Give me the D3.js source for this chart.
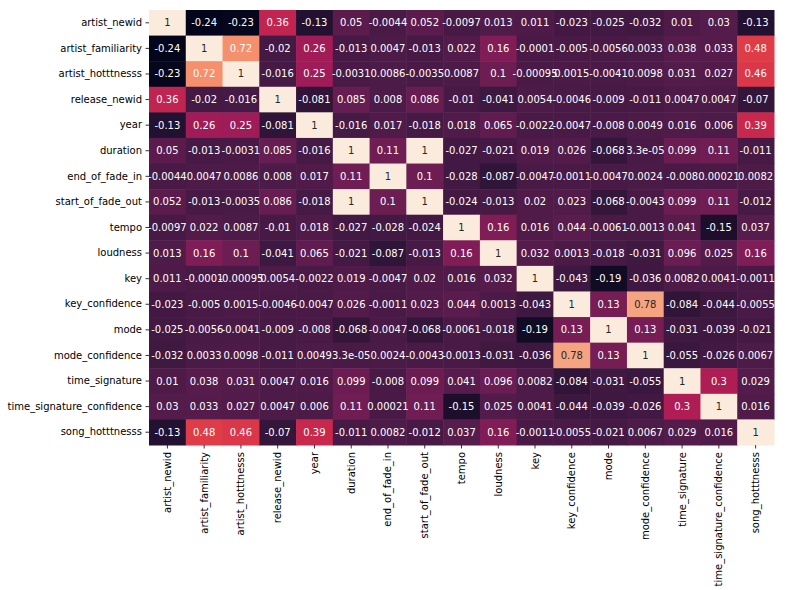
<!DOCTYPE html>
<html>
<head>
<meta charset="utf-8">
<script src="https://cdn.jsdelivr.net/npm/d3@7"></script>
<style>
  body { margin: 0; background: #fff; }
  svg { display: block; }
  text { font-family: "DejaVu Sans", sans-serif; }
</style>
</head>
<body>
<svg id="chart" width="796" height="590"></svg>
<script>
const labels = ["artist_newid","artist_familiarity","artist_hotttnesss","release_newid","year","duration","end_of_fade_in","start_of_fade_out","tempo","loudness","key","key_confidence","mode","mode_confidence","time_signature","time_signature_confidence","song_hotttnesss"];

const corr = [
  [1, -0.24, -0.23, 0.36, -0.13, 0.05, -0.0044, 0.052, -0.0097, 0.013, 0.011, -0.023, -0.025, -0.032, 0.01, 0.03, -0.13],
  [-0.24, 1, 0.72, -0.02, 0.26, -0.013, 0.0047, -0.013, 0.022, 0.16, -0.0001, -0.005, -0.0056, 0.0033, 0.038, 0.033, 0.48],
  [-0.23, 0.72, 1, -0.016, 0.25, -0.0031, 0.0086, -0.0035, 0.0087, 0.1, -0.00095, 0.0015, -0.0041, 0.0098, 0.031, 0.027, 0.46],
  [0.36, -0.02, -0.016, 1, -0.081, 0.085, 0.008, 0.086, -0.01, -0.041, 0.0054, -0.0046, -0.009, -0.011, 0.0047, 0.0047, -0.07],
  [-0.13, 0.26, 0.25, -0.081, 1, -0.016, 0.017, -0.018, 0.018, 0.065, -0.0022, -0.0047, -0.008, 0.0049, 0.016, 0.006, 0.39],
  [0.05, -0.013, -0.0031, 0.085, -0.016, 1, 0.11, 1, -0.027, -0.021, 0.019, 0.026, -0.068, 3.3e-05, 0.099, 0.11, -0.011],
  [-0.0044, 0.0047, 0.0086, 0.008, 0.017, 0.11, 1, 0.1, -0.028, -0.087, -0.0047, -0.0011, -0.0047, 0.0024, -0.008, 0.00021, 0.0082],
  [0.052, -0.013, -0.0035, 0.086, -0.018, 1, 0.1, 1, -0.024, -0.013, 0.02, 0.023, -0.068, -0.0043, 0.099, 0.11, -0.012],
  [-0.0097, 0.022, 0.0087, -0.01, 0.018, -0.027, -0.028, -0.024, 1, 0.16, 0.016, 0.044, -0.0061, -0.0013, 0.041, -0.15, 0.037],
  [0.013, 0.16, 0.1, -0.041, 0.065, -0.021, -0.087, -0.013, 0.16, 1, 0.032, 0.0013, -0.018, -0.031, 0.096, 0.025, 0.16],
  [0.011, -0.0001, -0.00095, 0.0054, -0.0022, 0.019, -0.0047, 0.02, 0.016, 0.032, 1, -0.043, -0.19, -0.036, 0.0082, 0.0041, -0.0011],
  [-0.023, -0.005, 0.0015, -0.0046, -0.0047, 0.026, -0.0011, 0.023, 0.044, 0.0013, -0.043, 1, 0.13, 0.78, -0.084, -0.044, -0.0055],
  [-0.025, -0.0056, -0.0041, -0.009, -0.008, -0.068, -0.0047, -0.068, -0.0061, -0.018, -0.19, 0.13, 1, 0.13, -0.031, -0.039, -0.021],
  [-0.032, 0.0033, 0.0098, -0.011, 0.0049, 3.3e-05, 0.0024, -0.0043, -0.0013, -0.031, -0.036, 0.78, 0.13, 1, -0.055, -0.026, 0.0067],
  [0.01, 0.038, 0.031, 0.0047, 0.016, 0.099, -0.008, 0.099, 0.041, 0.096, 0.0082, -0.084, -0.031, -0.055, 1, 0.3, 0.029],
  [0.03, 0.033, 0.027, 0.0047, 0.006, 0.11, 0.00021, 0.11, -0.15, 0.025, 0.0041, -0.044, -0.039, -0.026, 0.3, 1, 0.016],
  [-0.13, 0.48, 0.46, -0.07, 0.39, -0.011, 0.0082, -0.012, 0.037, 0.16, -0.0011, -0.0055, -0.021, 0.0067, 0.029, 0.016, 1]
];

// rocket colormap stops
const rocketStops = ["#03051a", "#35193e", "#701f57", "#ad1759", "#e13342", "#f37651", "#f6b48f", "#faebdd"];

const margin = {left: 149, top: 10, right: 22, bottom: 145};
const W = 796, H = 590;
const svg = d3.select("#chart");

const x = d3.scaleBand().domain(labels).range([margin.left, W - margin.right]).padding(0);
const y = d3.scaleBand().domain(labels).range([margin.top, H - margin.bottom]).padding(0);

const flat = corr.flat();
const vmin = d3.min(flat), vmax = d3.max(flat);
const interp = d3.interpolateRgbBasis(rocketStops);
const color = d3.scaleSequential(t => interp(t)).domain([vmin, vmax]);

function fmt(v) {
  if (v === 0) return "0";
  const e = Math.floor(Math.log10(Math.abs(v)));
  if (e < -4) {
    let s = v.toExponential(1);
    s = s.replace(/e([+-])(\d)$/, "e$10$2");
    return s;
  }
  return String(Number(v.toPrecision(2)));
}
function lum(c) {
  const rgb = d3.rgb(c);
  const f = u => { u /= 255; return u <= 0.03928 ? u / 12.92 : Math.pow((u + 0.055) / 1.055, 2.4); };
  return 0.2126 * f(rgb.r) + 0.7152 * f(rgb.g) + 0.0722 * f(rgb.b);
}

const cells = [];
corr.forEach((row, i) => row.forEach((v, j) => cells.push({r: labels[i], c: labels[j], v})));

svg.append("g").selectAll("rect").data(cells).join("rect")
  .attr("x", d => x(d.c)).attr("y", d => y(d.r))
  .attr("width", x.bandwidth() + 0.5).attr("height", y.bandwidth() + 0.5)
  .attr("fill", d => color(d.v));

svg.append("g").selectAll("text").data(cells).join("text")
  .attr("x", d => x(d.c) + x.bandwidth() / 2)
  .attr("y", d => y(d.r) + y.bandwidth() / 2)
  .attr("text-anchor", "middle").attr("dominant-baseline", "central")
  .attr("font-size", 10)
  .attr("fill", d => lum(color(d.v)) > 0.408 ? "#262626" : "#ffffff")
  .text(d => fmt(d.v));

const yAxis = svg.append("g").attr("transform", `translate(${margin.left},0)`)
  .call(d3.axisLeft(y).tickSize(3.5).tickPadding(3.5));
yAxis.select(".domain").remove();
yAxis.selectAll("text").attr("font-size", 10).attr("fill", "#000").attr("font-family", "DejaVu Sans");
yAxis.selectAll("line").attr("stroke", "#000").attr("stroke-width", 0.8);

const xAxis = svg.append("g").attr("transform", `translate(0,${H - margin.bottom})`)
  .call(d3.axisBottom(x).tickSize(3.5).tickPadding(3.5));
xAxis.select(".domain").remove();
xAxis.selectAll("line").attr("stroke", "#000").attr("stroke-width", 0.8);
xAxis.selectAll("text")
  .attr("font-size", 10).attr("fill", "#000").attr("font-family", "DejaVu Sans")
  .attr("transform", "rotate(-90)")
  .attr("x", -7).attr("y", 0).attr("dy", "0.35em")
  .attr("text-anchor", "end");
</script>
</body>
</html>
